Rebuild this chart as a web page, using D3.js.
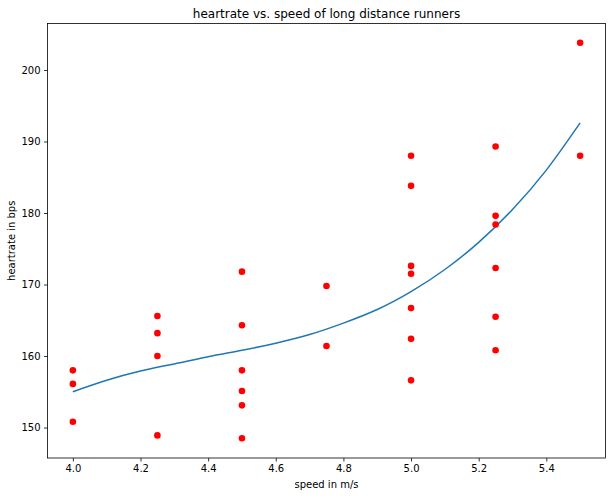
<!DOCTYPE html>
<html><head><meta charset="utf-8">
<script src="https://cdn.jsdelivr.net/npm/d3@7"></script>
<style>body{margin:0;background:#fff}svg{display:block}</style>
</head><body>
<svg id="c" width="612" height="496"></svg>
<script>
const speeds = [4.0,4.0,4.0, 4.25,4.25,4.25,4.25, 4.5,4.5,4.5,4.5,4.5,4.5, 4.75,4.75,
  5.0,5.0,5.0,5.0,5.0,5.0,5.0, 5.25,5.25,5.25,5.25,5.25,5.25, 5.5,5.5];
const heartrates = [158.0,156.1,150.8, 165.6,163.2,160.0,148.9, 171.8,164.3,158.0,155.1,153.1,148.5, 169.8,161.4,
  188.0,183.8,172.6,171.5,166.7,162.4,156.6, 189.3,179.6,178.4,172.3,165.5,160.8, 203.8,188.0];
const fitX = [4.0,4.1,4.2,4.3,4.4,4.5,4.6,4.7,4.8,4.9,5.0,5.1,5.2,5.3,5.4,5.5];
const fitY = [155.0,156.6,157.9,158.9,159.9,160.8,161.8,163.0,164.6,166.5,169.0,172.1,175.9,180.5,186.0,192.6];
const xTicks = [4.0,4.2,4.4,4.6,4.8,5.0,5.2,5.4];
const yTicks = [150,160,170,180,190,200];

const svg = d3.select("#c");
const L=47.5, R=605.5, T=23.5, B=458;
const x = d3.scaleLinear().domain([3.925,5.575]).range([L,R]);
const y = d3.scaleLinear().domain([145.74,206.5]).range([B,T]);
const font = "DejaVu Sans, sans-serif";

const gx = svg.append("g").attr("transform",`translate(0,${B})`)
  .call(d3.axisBottom(x).tickValues(xTicks).tickFormat(d3.format(".1f")).tickSizeOuter(0).tickSize(3.5).tickPadding(3.5));
const gy = svg.append("g").attr("transform",`translate(${L},0)`)
  .call(d3.axisLeft(y).tickValues(yTicks).tickFormat(d3.format("d")).tickSizeOuter(0).tickSize(3.5).tickPadding(3.5));
[gx,gy].forEach(g=>{
  g.select(".domain").remove();
  g.selectAll("line").attr("stroke","#000").attr("stroke-width",0.8);
  g.selectAll("text").attr("font-family",font).attr("font-size",10).attr("fill","#000");
});

svg.append("path")
  .datum(fitX.map((v,i)=>[v,fitY[i]]))
  .attr("fill","none").attr("stroke","#1f77b4").attr("stroke-width",1.5)
  .attr("d", d3.line().x(d=>x(d[0])).y(d=>y(d[1])).curve(d3.curveNatural));

svg.append("g").selectAll("circle").data(speeds.map((s,i)=>[s,heartrates[i]])).join("circle")
  .attr("cx",d=>x(d[0])).attr("cy",d=>y(d[1])).attr("r",3.3).attr("fill","#ff0000");

svg.append("rect").attr("x",L).attr("y",T).attr("width",R-L).attr("height",B-T)
  .attr("fill","none").attr("stroke","#000").attr("stroke-width",0.8);

svg.append("text").attr("x",(L+R)/2).attr("y",T-6).attr("text-anchor","middle")
  .attr("font-family",font).attr("font-size",12).text("heartrate vs. speed of long distance runners");
svg.append("text").attr("x",(L+R)/2).attr("y",488).attr("text-anchor","middle")
  .attr("font-family",font).attr("font-size",10).text("speed in m/s");
svg.append("text").attr("transform",`translate(14.5,${(T+B)/2}) rotate(-90)`).attr("text-anchor","middle")
  .attr("font-family",font).attr("font-size",10).text("heartrate in bps");
</script>
</body></html>
